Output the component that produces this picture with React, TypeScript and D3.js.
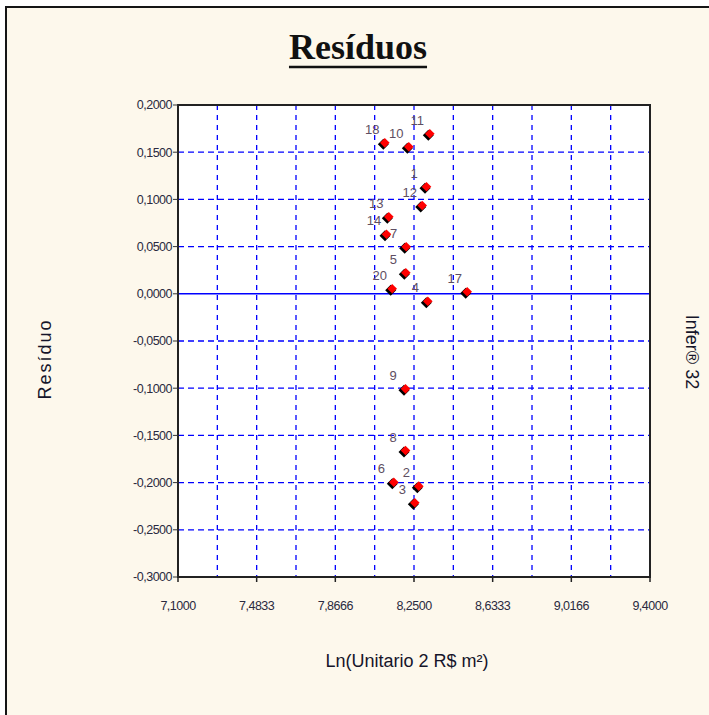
import React, { useEffect, useRef } from "react";
import * as d3 from "d3";

// residual points (observation id, ln unit value, residual)
const ids = [1, 2, 3, 4, 5, 6, 7, 8, 9, 10, 11, 12, 13, 14, 17, 18, 20];
const lnUnit = [8.3085, 8.271, 8.2515, 8.3148, 8.2077, 8.1492, 8.2096, 8.2062, 8.2062, 8.2222, 8.3246, 8.2876, 8.1248, 8.1136, 8.5068, 8.1053, 8.1413];
const residuo = [0.1128, -0.2043, -0.2219, -0.0084, 0.0217, -0.2001, 0.0493, -0.1665, -0.1012, 0.1552, 0.169, 0.093, 0.081, 0.0626, 0.0016, 0.1594, 0.0048];

const xTicks = [7.1, 7.4833, 7.8666, 8.25, 8.6333, 9.0166, 9.4];
const xTickLabels = ["7,1000", "7,4833", "7,8666", "8,2500", "8,6333", "9,0166", "9,4000"];
const yTicks = [0.2, 0.15, 0.1, 0.05, 0, -0.05, -0.1, -0.15, -0.2, -0.25, -0.3];

const W = 709;
const H = 715;

export default function App() {
  const svgRef = useRef<SVGSVGElement>(null);

  useEffect(() => {
    document.body.style.margin = "0";
    const svg = d3.select(svgRef.current);
    svg.selectAll("*").remove();

    const plot = { left: 178, top: 105, right: 650, bottom: 577 };

    const x = d3.scaleLinear().domain([7.1, 9.4]).range([plot.left, plot.right]);
    const y = d3.scaleLinear().domain([-0.3, 0.2]).range([plot.bottom, plot.top]);

    // frame
    svg.append("rect").attr("width", W).attr("height", H).attr("fill", "#ffffff");
    svg.append("rect")
      .attr("x", 6).attr("y", 7)
      .attr("width", 740).attr("height", 740)
      .attr("fill", "#fdf8ec")
      .attr("stroke", "#151515")
      .attr("stroke-width", 2);

    // title
    const title = svg.append("text")
      .attr("x", 358).attr("y", 59)
      .attr("text-anchor", "middle")
      .attr("font-family", "Liberation Serif, serif")
      .attr("font-weight", "bold")
      .attr("font-size", 36)
      .attr("fill", "#111")
      .text("Resíduos");
    const tw = (title.node() as SVGTextElement).getComputedTextLength();
    svg.append("line")
      .attr("x1", 358 - tw / 2).attr("x2", 358 + tw / 2)
      .attr("y1", 67).attr("y2", 67)
      .attr("stroke", "#111").attr("stroke-width", 2.5);

    // plot background
    svg.append("rect")
      .attr("x", plot.left).attr("y", plot.top)
      .attr("width", plot.right - plot.left).attr("height", plot.bottom - plot.top)
      .attr("fill", "#ffffff");

    // grid
    const xGrid = d3.range(1, 12).map((i) => 7.1 + (i * 2.3) / 12);
    svg.append("g").selectAll("line")
      .data(xGrid)
      .join("line")
      .attr("x1", (d) => x(d)).attr("x2", (d) => x(d))
      .attr("y1", plot.top).attr("y2", plot.bottom)
      .attr("stroke", "#0000ff").attr("stroke-width", 1.3)
      .attr("stroke-dasharray", "5,5");

    svg.append("g").selectAll("line")
      .data(yTicks.filter((d) => d < 0.2 && d > -0.3 && d !== 0))
      .join("line")
      .attr("x1", plot.left).attr("x2", plot.right)
      .attr("y1", (d) => y(d)).attr("y2", (d) => y(d))
      .attr("stroke", "#0000ff").attr("stroke-width", 1.3)
      .attr("stroke-dasharray", "6,4");

    svg.append("line")
      .attr("x1", plot.left).attr("x2", plot.right)
      .attr("y1", y(0)).attr("y2", y(0))
      .attr("stroke", "#0000ff").attr("stroke-width", 1.6);

    // border
    svg.append("rect")
      .attr("x", plot.left).attr("y", plot.top)
      .attr("width", plot.right - plot.left).attr("height", plot.bottom - plot.top)
      .attr("fill", "none")
      .attr("stroke", "#222").attr("stroke-width", 2);

    // y ticks + labels
    const yAx = svg.append("g");
    yAx.selectAll("line")
      .data(yTicks)
      .join("line")
      .attr("x1", plot.left - 5).attr("x2", plot.left)
      .attr("y1", (d) => y(d)).attr("y2", (d) => y(d))
      .attr("stroke", "#333").attr("stroke-width", 1);
    yAx.selectAll("text")
      .data(yTicks)
      .join("text")
      .attr("x", plot.left - 6)
      .attr("y", (d) => y(d))
      .attr("dy", "0.35em")
      .attr("text-anchor", "end")
      .attr("font-family", "Liberation Sans, Arial, sans-serif")
      .attr("font-size", 12.5)
      .attr("letter-spacing", -0.5)
      .attr("fill", "#2a2a40")
      .text((d) => d3.format(".4f")(d).replace("−", "-").replace(".", ","));

    // x ticks + labels
    const xAx = svg.append("g");
    xAx.selectAll("line")
      .data(xTicks)
      .join("line")
      .attr("x1", (d) => x(d)).attr("x2", (d) => x(d))
      .attr("y1", plot.bottom).attr("y2", plot.bottom + 5)
      .attr("stroke", "#222").attr("stroke-width", 1.5);
    xAx.selectAll("text")
      .data(xTicks)
      .join("text")
      .attr("x", (d) => x(d))
      .attr("y", 610)
      .attr("text-anchor", "middle")
      .attr("font-family", "Liberation Sans, Arial, sans-serif")
      .attr("font-size", 12.5)
      .attr("letter-spacing", -0.5)
      .attr("fill", "#2a2a40")
      .text((d, i) => xTickLabels[i]);

    // points
    const pts = ids.map((id, i) => ({ id, x: lnUnit[i], y: residuo[i] }));
    const diamond = (r: number) => `M0,${-r}L${r},0L0,${r}L${-r},0Z`;
    const g = svg.append("g");
    g.selectAll("path.shadow")
      .data(pts)
      .join("path")
      .attr("class", "shadow")
      .attr("d", diamond(5.5))
      .attr("stroke-linejoin", "round")
      .attr("transform", (d) => `translate(${x(d.x) - 1},${y(d.y) + 1})`)
      .attr("fill", "#000");
    g.selectAll("path.dot")
      .data(pts)
      .join("path")
      .attr("class", "dot")
      .attr("d", diamond(4.8))
      .attr("transform", (d) => `translate(${x(d.x) + 0.5},${y(d.y) - 0.5})`)
      .attr("fill", "#ff0000");
    g.selectAll("text")
      .data(pts)
      .join("text")
      .attr("x", (d) => x(d.x) - 12)
      .attr("y", (d) => y(d.y) - 14)
      .attr("dy", "0.35em")
      .attr("text-anchor", "middle")
      .attr("font-family", "Liberation Sans, Arial, sans-serif")
      .attr("font-size", 13)
      .attr("fill", "#5e4e62")
      .text((d) => d.id);

    // axis titles
    svg.append("text")
      .attr("x", 407).attr("y", 667)
      .attr("text-anchor", "middle")
      .attr("font-family", "Liberation Sans, Arial, sans-serif")
      .attr("font-size", 18)
      .attr("fill", "#15152a")
      .text("Ln(Unitario 2 R$ m²)");

    svg.append("text")
      .attr("transform", "translate(51,359) rotate(-90)")
      .attr("text-anchor", "middle")
      .attr("font-family", "Liberation Sans, Arial, sans-serif")
      .attr("font-size", 18)
      .attr("letter-spacing", 2)
      .attr("fill", "#15152a")
      .text("Resíduo");

    svg.append("text")
      .attr("transform", "translate(686,352) rotate(90)")
      .attr("text-anchor", "middle")
      .attr("font-family", "Liberation Sans, Arial, sans-serif")
      .attr("font-size", 18)
      .attr("fill", "#15152a")
      .text("Infer® 32");
  }, []);

  return <svg ref={svgRef} width={W} height={H} style={{ display: "block" }} />;
}
